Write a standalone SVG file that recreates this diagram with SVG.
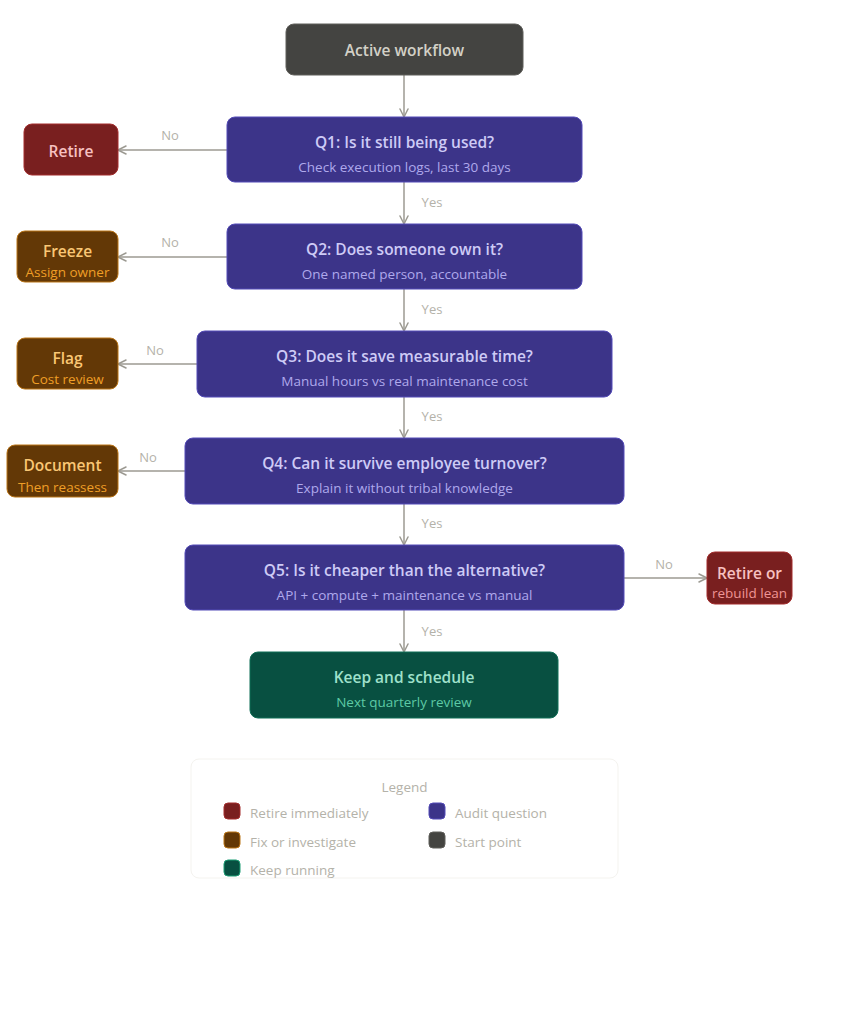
<svg xmlns="http://www.w3.org/2000/svg" width="857" height="1024" viewBox="0 0 857 1024">
<defs>
<marker id="arr" viewBox="0 0 10 10" refX="9" refY="5" markerWidth="10" markerHeight="10" markerUnits="userSpaceOnUse" orient="auto-start-reverse">
<path d="M1,1 L9,5 L1,9" fill="none" stroke="#9c9a92" stroke-width="1.5" stroke-linecap="round" stroke-linejoin="round"/>
</marker>
<style>
text{font-family:"Open Sans","Noto Sans","Liberation Sans",sans-serif;text-anchor:middle;dominant-baseline:central}
.t{font-size:15.5px;font-weight:600}
.s{font-size:13.5px}
.lbl{font-size:13px;fill:#b4b2a9}
.q rect{fill:#3c3489;stroke:#534ab7;stroke-width:1}
.q .t{fill:#cecbf6}.q .s{fill:#afa9ec}
.r rect{fill:#791f1f;stroke:#a32d2d;stroke-width:1}
.r .t{fill:#f7c1c1}.r .s{fill:#f09595}
.a rect{fill:#633806;stroke:#ba7517;stroke-width:1}
.a .t{fill:#fac775}.a .s{fill:#ef9f27}
.g rect{fill:#085041;stroke:#0f6e56;stroke-width:1}
.g .t{fill:#9fe1cb}.g .s{fill:#5dcaa5}
.k rect{fill:#444441;stroke:#5f5e5a;stroke-width:1}
.k .t{fill:#d3d1c7}
.conn path{fill:none;stroke:#9c9a92;stroke-width:1.5;marker-end:url(#arr)}
.leg text{font-size:13.5px;fill:#b4b2a9;text-anchor:start}
</style>
</defs>
<rect width="857" height="1024" fill="#ffffff"/>
<g class="conn">
<path d="M404,75 V117"/>
<path d="M404,182 V224"/>
<path d="M404,289 V331"/>
<path d="M404,397 V438"/>
<path d="M404,504 V545"/>
<path d="M404,610 V652"/>
<path d="M227,150 H118"/>
<path d="M227,257 H118"/>
<path d="M197,364 H118"/>
<path d="M185,471 H118"/>
<path d="M624,578 H707"/>
<text class="lbl" x="432" y="202">Yes</text>
<text class="lbl" x="432" y="309">Yes</text>
<text class="lbl" x="432" y="416">Yes</text>
<text class="lbl" x="432" y="523">Yes</text>
<text class="lbl" x="432" y="631">Yes</text>
<text class="lbl" x="170" y="135">No</text>
<text class="lbl" x="170" y="242">No</text>
<text class="lbl" x="155" y="350">No</text>
<text class="lbl" x="148" y="457">No</text>
<text class="lbl" x="664" y="564">No</text>
</g>
<g id="start" class="k"><rect x="286" y="24" width="237" height="51" rx="8"/><text class="t" x="404.5" y="50">Active workflow</text></g>
<g id="q1" class="q"><rect x="227" y="117" width="355" height="65" rx="8"/><text class="t" x="404.5" y="142">Q1: Is it still being used?</text><text class="s" x="404.5" y="167">Check execution logs, last 30 days</text></g>
<g id="retire" class="r"><rect x="24" y="124" width="94" height="51" rx="8"/><text class="t" x="71" y="151">Retire</text></g>
<g id="q2" class="q"><rect x="227" y="224" width="355" height="65" rx="8"/><text class="t" x="404.5" y="249">Q2: Does someone own it?</text><text class="s" x="404.5" y="274">One named person, accountable</text></g>
<g id="freeze" class="a"><rect x="17" y="231" width="101" height="51" rx="8"/><text class="t" x="67.5" y="251">Freeze</text><text class="s" x="67.5" y="272">Assign owner</text></g>
<g id="q3" class="q"><rect x="197" y="331" width="415" height="66" rx="8"/><text class="t" x="404.5" y="356">Q3: Does it save measurable time?</text><text class="s" x="404.5" y="381">Manual hours vs real maintenance cost</text></g>
<g id="flag" class="a"><rect x="17" y="338" width="101" height="51" rx="8"/><text class="t" x="67.5" y="358">Flag</text><text class="s" x="67.5" y="379">Cost review</text></g>
<g id="q4" class="q"><rect x="185" y="438" width="439" height="66" rx="8"/><text class="t" x="404.5" y="463">Q4: Can it survive employee turnover?</text><text class="s" x="404.5" y="488">Explain it without tribal knowledge</text></g>
<g id="document" class="a"><rect x="7" y="445" width="111" height="52" rx="8"/><text class="t" x="62.5" y="465">Document</text><text class="s" x="62.5" y="487">Then reassess</text></g>
<g id="q5" class="q"><rect x="185" y="545" width="439" height="65" rx="8"/><text class="t" x="404.5" y="570">Q5: Is it cheaper than the alternative?</text><text class="s" x="404.5" y="595">API + compute + maintenance vs manual</text></g>
<g id="retire2" class="r"><rect x="707" y="552" width="85" height="52" rx="8"/><text class="t" x="749.5" y="573">Retire or</text><text class="s" x="749.5" y="593">rebuild lean</text></g>
<g id="keep" class="g"><rect x="250" y="652" width="308" height="66" rx="8"/><text class="t" x="404" y="677">Keep and schedule</text><text class="s" x="404" y="702">Next quarterly review</text></g>
<g id="legend" class="leg">
<rect x="191" y="759" width="427" height="119" rx="8" fill="#ffffff" stroke="#f4f3ef" stroke-width="1"/>
<text x="404.5" y="787" style="text-anchor:middle">Legend</text>
<rect x="224" y="803" width="16" height="16" rx="4" fill="#791f1f" stroke="#a32d2d"/><text x="250" y="813">Retire immediately</text>
<rect x="224" y="832" width="16" height="16" rx="4" fill="#633806" stroke="#ba7517"/><text x="250" y="842">Fix or investigate</text>
<rect x="224" y="860" width="16" height="16" rx="4" fill="#085041" stroke="#1d9e75"/><text x="250" y="870">Keep running</text>
<rect x="429" y="803" width="16" height="16" rx="4" fill="#3c3489" stroke="#534ab7"/><text x="455" y="813">Audit question</text>
<rect x="429" y="832" width="16" height="16" rx="4" fill="#444441" stroke="#5f5e5a"/><text x="455" y="842">Start point</text>
</g>
</svg>
